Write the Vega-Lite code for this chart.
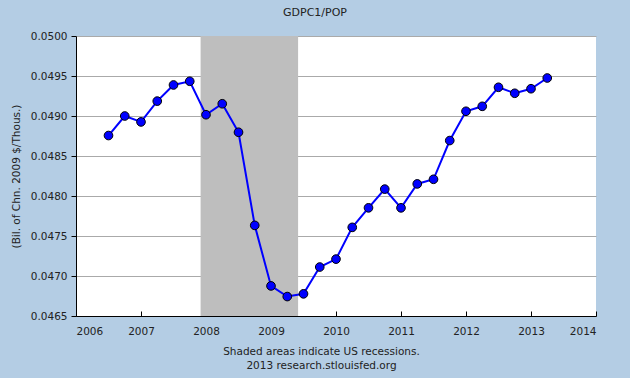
{
  "$schema": "https://vega.github.io/schema/vega-lite/v6.json",
  "width": 520,
  "height": 280,
  "autosize": {"type": "none"},
  "padding": {"left": 76, "top": 36, "right": 34, "bottom": 62},
  "background": "#b4cde4",
  "title": {"text": "GDPC1/POP", "fontSize": 11, "fontWeight": "normal", "font": "DejaVu Sans", "color": "#222222", "dx": -21, "offset": 13, "anchor": "middle"},
  "config": {
    "view": {"fill": "white", "stroke": null},
    "font": "DejaVu Sans",
    "axis": {"labelFont": "DejaVu Sans", "titleFont": "DejaVu Sans", "labelColor": "#222222", "titleColor": "#222222", "labelFontSize": 10.5, "titleFontSize": 10.5, "titleFontWeight": "normal", "domainColor": "black", "tickColor": "black"}
  },
  "datasets": {
    "series": [
      {"date": 2006.5, "value": 0.048756},
      {"date": 2006.75, "value": 0.049000},
      {"date": 2007.0, "value": 0.048926},
      {"date": 2007.25, "value": 0.049186},
      {"date": 2007.5, "value": 0.049388},
      {"date": 2007.75, "value": 0.049434},
      {"date": 2008.0, "value": 0.049016},
      {"date": 2008.25, "value": 0.049153},
      {"date": 2008.5, "value": 0.048797},
      {"date": 2008.75, "value": 0.047633},
      {"date": 2009.0, "value": 0.046876},
      {"date": 2009.25, "value": 0.046743},
      {"date": 2009.5, "value": 0.046777},
      {"date": 2009.75, "value": 0.047112},
      {"date": 2010.0, "value": 0.047211},
      {"date": 2010.25, "value": 0.047608},
      {"date": 2010.5, "value": 0.047852},
      {"date": 2010.75, "value": 0.048086},
      {"date": 2011.0, "value": 0.047852},
      {"date": 2011.25, "value": 0.048151},
      {"date": 2011.5, "value": 0.048209},
      {"date": 2011.75, "value": 0.048693},
      {"date": 2012.0, "value": 0.049059},
      {"date": 2012.25, "value": 0.049121},
      {"date": 2012.5, "value": 0.049359},
      {"date": 2012.75, "value": 0.049284},
      {"date": 2013.0, "value": 0.049341},
      {"date": 2013.25, "value": 0.049475}
    ],
    "recessions": [
      {"start": 2007.917, "end": 2009.417}
    ]
  },
  "layer": [
    {
      "data": {"name": "recessions"},
      "mark": {"type": "rect", "color": "#bebebe", "opacity": 1},
      "encoding": {
        "x": {"field": "start", "type": "quantitative", "scale": {"domain": [2006, 2014], "nice": false, "zero": false}},
        "x2": {"field": "end"}
      }
    },
    {
      "data": {"name": "series"},
      "mark": {"type": "line", "color": "#0000ff", "strokeWidth": 2,
        "point": {"filled": true, "fill": "#0000ff", "stroke": "black", "strokeWidth": 1, "size": 75, "opacity": 1}},
      "encoding": {
        "x": {"field": "date", "type": "quantitative",
          "scale": {"domain": [2006, 2014], "nice": false, "zero": false},
          "axis": {"values": [2006, 2007, 2008, 2009, 2010, 2011, 2012, 2013, 2014], "format": "d", "grid": false, "tickSize": -5, "labelPadding": 15, "title": ["Shaded areas indicate US recessions.", "2013 research.stlouisfed.org"], "titleX": 245, "titleAlign": "center", "titlePadding": 10, "titleLineHeight": 14}},
        "y": {"field": "value", "type": "quantitative",
          "scale": {"domain": [0.0465, 0.05], "nice": false, "zero": false},
          "axis": {"values": [0.0465, 0.047, 0.0475, 0.048, 0.0485, 0.049, 0.0495, 0.05], "format": ".4f", "grid": true, "gridColor": "#aaaaaa", "gridOpacity": 1, "tickSize": 5, "labelPadding": 4, "title": "(Bil. of Chn. 2009 $/Thous.)", "titlePadding": 9}}
      }
    }
  ]
}
